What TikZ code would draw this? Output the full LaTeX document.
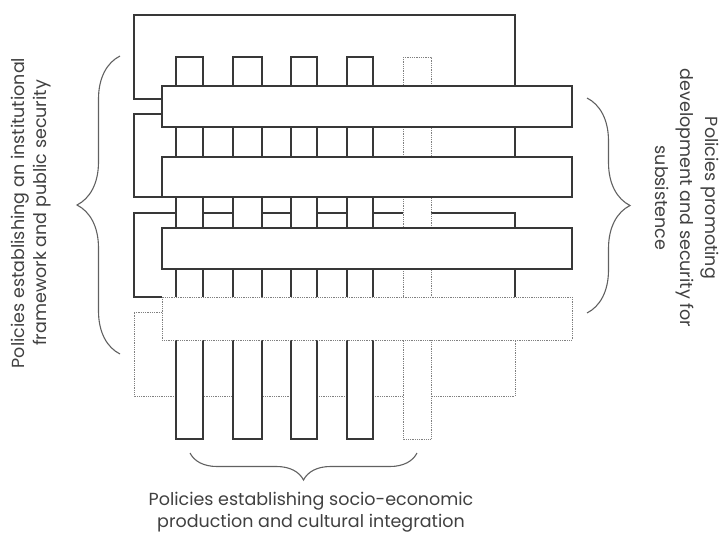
\documentclass[tikz,border=0pt]{standalone}
\usepackage{fontspec}
\setmainfont{Poppins}
\usetikzlibrary{decorations.pathreplacing}

\begin{document}
\begin{tikzpicture}[x=1pt,y=-1pt,
  solidline/.style={draw=black!78, line width=1.3pt},
  dotline/.style={draw=black!50, line width=0.9pt, dash pattern=on 1pt off 0.8pt},
  bar/.style={solidline, fill=white},
  dotbar/.style={dotline, fill=white},
  bracestyle/.style={draw=black!62, line width=1.1pt, decorate,
    decoration={brace, amplitude=#1}},
  label/.style={text=black!75, font=\fontsize{17.5}{21.5}\selectfont, align=center}
]
\useasboundingbox (0,0) rectangle (720,533);

% frame lines running behind the columns and bars
\draw[solidline] (515,157) -- (515,15) -- (134,15) -- (134,99) -- (162,99);
\draw[solidline] (162,114) -- (134,114) -- (134,197) -- (162,197);
\draw[solidline] (162,297) -- (134,297) -- (134,213) -- (515,213) -- (515,297);
\draw[dotline] (162,312) -- (134,312) -- (134,396) -- (515,396) -- (515,340);

% vertical columns
\foreach \a/\b [count=\i] in {176/203,233/262,291/317,347/373}
  \draw[bar] (\a,57) rectangle (\b,439) coordinate (col\i);
\draw[dotbar] (403,57) rectangle (431,439) coordinate (col5);

% horizontal bars
\draw[bar] (162,86) rectangle (572,127);
\draw[bar] (162,157) rectangle (572,197);
\draw[bar] (162,228) rectangle (572,269);
\draw[dotbar] (162,297) rectangle (572,340);

% braces
\draw[bracestyle=43] (120,354) -- (120,56);
\draw[bracestyle=43] (587,98) -- (587,313);
\draw[bracestyle=27] (417,453) -- (190,453);

% labels
\node[label, rotate=90] (lleft) at (31,213)
  {Policies establishing an institutional\\framework and public security};
\node[label, rotate=-90, font=\fontsize{17.5}{25}\selectfont] (lright) at (687,198)
  {Policies promoting\\development and security for\\subsistence};
\node[label] (lbottom) at (311,512)
  {Policies establishing socio-economic\\production and cultural integration};
\end{tikzpicture}
\end{document}
